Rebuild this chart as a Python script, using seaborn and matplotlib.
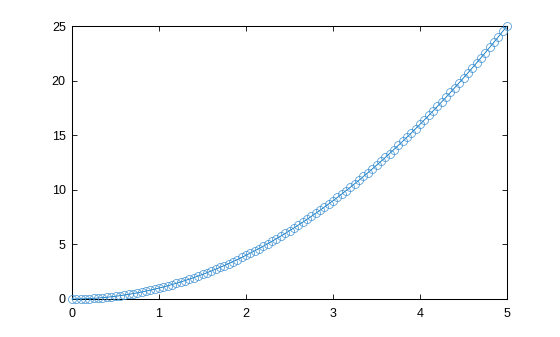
import matplotlib
matplotlib.use("Agg")
import matplotlib.pyplot as plt
import seaborn as sns
import pandas as pd

x_vals = [0.0, 0.05, 0.1, 0.15, 0.2, 0.25, 0.3, 0.35, 0.4, 0.45,
          0.5, 0.55, 0.6, 0.65, 0.7, 0.75, 0.8, 0.85, 0.9, 0.95,
          1.0, 1.05, 1.1, 1.15, 1.2, 1.25, 1.3, 1.35, 1.4, 1.45,
          1.5, 1.55, 1.6, 1.65, 1.7, 1.75, 1.8, 1.85, 1.9, 1.95,
          2.0, 2.05, 2.1, 2.15, 2.2, 2.25, 2.3, 2.35, 2.4, 2.45,
          2.5, 2.55, 2.6, 2.65, 2.7, 2.75, 2.8, 2.85, 2.9, 2.95,
          3.0, 3.05, 3.1, 3.15, 3.2, 3.25, 3.3, 3.35, 3.4, 3.45,
          3.5, 3.55, 3.6, 3.65, 3.7, 3.75, 3.8, 3.85, 3.9, 3.95,
          4.0, 4.05, 4.1, 4.15, 4.2, 4.25, 4.3, 4.35, 4.4, 4.45,
          4.5, 4.55, 4.6, 4.65, 4.7, 4.75, 4.8, 4.85, 4.9, 4.95,
          5.0]
y_vals = [0.0, 0.0025, 0.01, 0.0225, 0.04, 0.0625, 0.09, 0.1225, 0.16, 0.2025,
          0.25, 0.3025, 0.36, 0.4225, 0.49, 0.5625, 0.64, 0.7225, 0.81, 0.9025,
          1.0, 1.1025, 1.21, 1.3225, 1.44, 1.5625, 1.69, 1.8225, 1.96, 2.1025,
          2.25, 2.4025, 2.56, 2.7225, 2.89, 3.0625, 3.24, 3.4225, 3.61, 3.8025,
          4.0, 4.2025, 4.41, 4.6225, 4.84, 5.0625, 5.29, 5.5225, 5.76, 6.0025,
          6.25, 6.5025, 6.76, 7.0225, 7.29, 7.5625, 7.84, 8.1225, 8.41, 8.7025,
          9.0, 9.3025, 9.61, 9.9225, 10.24, 10.5625, 10.89, 11.2225, 11.56, 11.9025,
          12.25, 12.6025, 12.96, 13.3225, 13.69, 14.0625, 14.44, 14.8225, 15.21, 15.6025,
          16.0, 16.4025, 16.81, 17.2225, 17.64, 18.0625, 18.49, 18.9225, 19.36, 19.8025,
          20.25, 20.7025, 21.16, 21.6225, 22.09, 22.5625, 23.04, 23.5225, 24.01, 24.5025,
          25.0]
x_ticks = [0, 1, 2, 3, 4, 5]
y_ticks = [0, 5, 10, 15, 20, 25]

sns.set_style("ticks")
plt.rcParams['font.family'] = ['Liberation Sans', 'DejaVu Sans']

df = pd.DataFrame({"x": x_vals, "y": y_vals})

fig = plt.figure(figsize=(5.6, 3.37), dpi=100)
ax = fig.add_axes([0.1286, 0.1128, 0.7768, 0.81])

color = "#0072BD"
sns.lineplot(data=df, x="x", y="y", ax=ax, sort=False, estimator=None,
             color=color, linewidth=0.6, marker="o", markersize=5.8,
             markerfacecolor="none", markeredgecolor="#3d8fd1", markeredgewidth=0.5)
for ln in ax.lines:
    ln.set_clip_on(False)

ax.set_xlim(0, 5)
ax.set_ylim(0, 25)
ax.set_xticks(x_ticks)
ax.set_yticks(y_ticks)
ax.set_xlabel("")
ax.set_ylabel("")
for s in ax.spines.values():
    s.set_visible(True)
    s.set_color("black")
    s.set_linewidth(0.75)
    s.set_zorder(0.5)
ax.tick_params(direction="in", top=True, right=True, length=3.5, width=0.6,
               labelsize=9, colors="black", pad=4.5)
ax.tick_params(axis="x", pad=6.5)
fig.savefig("out.png", dpi=100, facecolor="white")
